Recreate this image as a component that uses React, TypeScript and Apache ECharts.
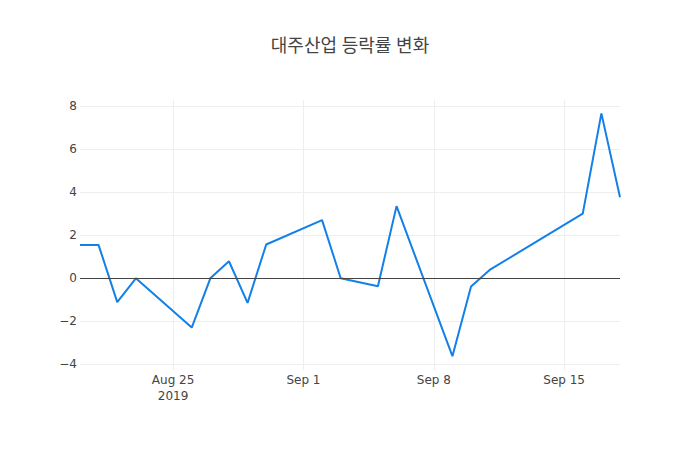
import React, { useEffect, useRef } from 'react'
import * as echarts from 'echarts'

const dates = [
  '2019-08-20', '2019-08-21', '2019-08-22', '2019-08-23',
  '2019-08-26', '2019-08-27', '2019-08-28', '2019-08-29', '2019-08-30',
  '2019-09-02', '2019-09-03', '2019-09-05', '2019-09-06',
  '2019-09-09', '2019-09-10', '2019-09-11',
  '2019-09-16', '2019-09-17', '2019-09-18',
]
const changeRates = [
  1.55, 1.54, -1.11, 0.0,
  -2.29, 0.0, 0.79, -1.14, 1.57,
  2.7, 0.0, -0.37, 3.35,
  -3.62, -0.38, 0.39,
  3.0, 7.66, 3.76,
]
const xTickDates = ['2019-08-25', '2019-09-01', '2019-09-08', '2019-09-15']
const monthNames = ['Jan', 'Feb', 'Mar', 'Apr', 'May', 'Jun', 'Jul', 'Aug', 'Sep', 'Oct', 'Nov', 'Dec']

const toTime = (s: string) => new Date(s + 'T00:00:00').getTime()
const titleFont = '"Open Sans", "Noto Sans CJK KR", sans-serif'
const tickFont = '"DejaVu Sans", Verdana, sans-serif'

const App: React.FC = () => {
  const containerRef = useRef<HTMLDivElement>(null)

  useEffect(() => {
    if (!containerRef.current) return
    const chart = echarts.init(containerRef.current, undefined, { renderer: 'svg' })
    const firstTick = toTime(xTickDates[0])
    const tickValues = xTickDates.map(toTime)

    const option: echarts.EChartsOption = {
      animation: false,
      backgroundColor: '#fff',
      title: {
        text: '대주산업 등락률 변화',
        left: 'center',
        top: 31,
        textStyle: { fontFamily: titleFont, fontSize: 18, fontWeight: 'normal', color: '#444' },
      },
      grid: { left: 80, right: 80, top: 100, bottom: 80 },
      xAxis: {
        type: 'value',
        min: toTime(dates[0]),
        max: toTime(dates[dates.length - 1]),
        axisLine: { show: false },
        axisTick: { show: false, customValues: tickValues } as any,
        axisLabel: {
          customValues: tickValues,
          margin: 2,
          color: '#444',
          fontFamily: tickFont,
          fontSize: 12,
          lineHeight: 16,
          formatter: (v: number) => {
            const d = new Date(v)
            const s = `${monthNames[d.getMonth()]} ${d.getDate()}`
            return v === firstTick ? `${s}\n${d.getFullYear()}` : s
          },
        } as any,
        splitLine: { show: true, lineStyle: { color: '#eee', width: 1 } },
      },
      yAxis: {
        type: 'value',
        min: -4.26,
        max: 8.28,
        splitNumber: 6,
        axisLine: { show: false },
        axisTick: { show: false },
        axisLabel: {
          margin: 3,
          color: '#444',
          fontFamily: tickFont,
          fontSize: 12,
          showMinLabel: false,
          showMaxLabel: false,
          formatter: (v: number) => (v < 0 ? `\u2212${Math.abs(v)}` : `${v}`),
        },
        splitLine: { lineStyle: { color: '#eee', width: 1 }, showMinLine: false, showMaxLine: false } as any,
      },
      series: [
        {
          type: 'line',
          data: dates.map((d, i) => [toTime(d), changeRates[i]]),
          showSymbol: false,
          lineStyle: { color: '#1380e8', width: 2 },
          itemStyle: { color: '#1380e8' },
          markLine: {
            silent: true,
            symbol: 'none',
            label: { show: false },
            lineStyle: { color: '#444', width: 1, type: 'solid' },
            data: [{ yAxis: 0 }],
          },
        },
      ],
    }

    chart.setOption(option)
    return () => chart.dispose()
  }, [])

  return <div ref={containerRef} style={{ width: 700, height: 450, margin: -8 }} />
}

export default App
